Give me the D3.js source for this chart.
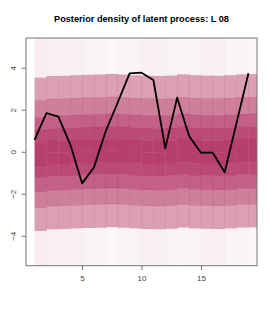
<!DOCTYPE html>
<meta charset="utf-8">
<style>
body { margin: 0; background: #fff; }
svg { font-family: "Liberation Sans", Arial, sans-serif; }
.axis text { fill: #444; font-size: 8px; }
.axis line { stroke: #777; }
</style>
<svg width="275" height="314"></svg>
<script src="https://cdn.jsdelivr.net/npm/d3@7"></script>
<script>

// latent process mean, one value per time point
var times = [1,2,3,4,5,6,7,8,9,10,11,12,13,14,15,16,17,18,19];
var latent = [0.59,1.86,1.70,0.38,-1.48,-0.72,1.02,2.37,3.76,3.79,3.44,0.19,2.60,0.78,-0.02,-0.02,-0.95,1.40,3.76];

// density band edges (shared by all columns) and band shading (alpha of maroon)
var bandEdges = [-3.61,-2.51,-1.75,-1.08,-0.52,0.03,0.59,1.18,1.78,2.58,3.67];
var bandAlpha = [0.07,0.46,0.62,0.77,0.87,0.93,0.93,0.87,0.77,0.62,0.46,0.07];
// small per-column changes
var colShift = [-0.12,-0.04,-0.03,0.0,0.02,0.03,0.06,0.03,0.0,-0.03,-0.04,-0.02,0.04,0.0,-0.02,-0.03,0.0,0.04,0.05];
var colOuter = [0.09,0.08,0.07,0.07,0.06,0.06,0.04,0.06,0.06,0.07,0.07,0.06,0.05,0.06,0.07,0.07,0.06,0.05,0.04];

var xTicks = [5,10,15];
var yTicks = [-4,-2,0,2,4];
var title = "Posterior density of latent process: L 08";

var svg = d3.select("svg");

var x = d3.scaleLinear().domain([0.28, 19.72]).range([26, 257]);
var y = d3.scaleLinear().domain([-5.40, 5.44]).range([265.7, 38]);

svg.append("defs").append("clipPath").attr("id", "plotclip")
  .append("rect")
    .attr("x", x.range()[0]).attr("y", y.range()[1])
    .attr("width", x.range()[1] - x.range()[0])
    .attr("height", y.range()[0] - y.range()[1]);

// build the heat cells
var cells = [];
times.forEach(function(t, i) {
  var edges = [y.domain()[0]].concat(bandEdges.map(function(e) { return e + colShift[i]; }), [y.domain()[1]]);
  for (var b = 0; b < edges.length - 1; b++) {
    var a = bandAlpha[b];
    if (b == 0 || b == edges.length - 2) a = colOuter[i];
    cells.push({x0: t, x1: t + 1, y0: edges[b], y1: edges[b + 1], a: a});
  }
});

svg.append("g")
    .attr("clip-path", "url(#plotclip)")
  .selectAll("rect")
  .data(cells)
  .enter().append("rect")
    .attr("x", function(d) { return x(d.x0); })
    .attr("width", function(d) { return x(d.x1) - x(d.x0) + 0.3; })
    .attr("y", function(d) { return y(d.y1); })
    .attr("height", function(d) { return y(d.y0) - y(d.y1) + 0.3; })
    .attr("fill", "#b03060")
    .attr("fill-opacity", function(d) { return d.a; });

var line = d3.line()
    .x(function(d, i) { return x(times[i]); })
    .y(function(d) { return y(d); });

svg.append("path")
    .datum(latent)
    .attr("d", line)
    .attr("fill", "none")
    .attr("stroke", "#000")
    .attr("stroke-width", 1.8)
    .attr("stroke-linejoin", "round");

// box
svg.append("rect")
    .attr("x", x.range()[0]).attr("y", y.range()[1])
    .attr("width", x.range()[1] - x.range()[0])
    .attr("height", y.range()[0] - y.range()[1])
    .attr("fill", "none")
    .attr("stroke", "#777");

// axes, R style
var xAxis = svg.append("g")
    .attr("class", "axis")
    .attr("transform", "translate(0," + y.range()[0] + ")")
    .call(d3.axisBottom(x).tickValues(xTicks).tickSize(4.5).tickPadding(5));
xAxis.select(".domain").remove();

var yAxis = svg.append("g")
    .attr("class", "axis")
    .attr("transform", "translate(" + x.range()[0] + ",0)")
    .call(d3.axisLeft(y).tickValues(yTicks).tickSize(4.5));
yAxis.select(".domain").remove();
yAxis.selectAll("text")
    .attr("x", 0).attr("dy", null)
    .attr("text-anchor", "middle")
    .attr("transform", function(d) { return "translate(-10," + y(d) + ") rotate(-90)"; })
    .attr("y", 0);
yAxis.selectAll(".tick").attr("transform", null);
yAxis.selectAll(".tick line").attr("transform", function(d) { return "translate(0," + y(d) + ")"; });

svg.append("text")
    .attr("x", (x.range()[0] + x.range()[1]) / 2)
    .attr("y", 22)
    .attr("text-anchor", "middle")
    .attr("font-weight", "bold")
    .attr("font-size", "9.2px")
    .text(title);

</script>
